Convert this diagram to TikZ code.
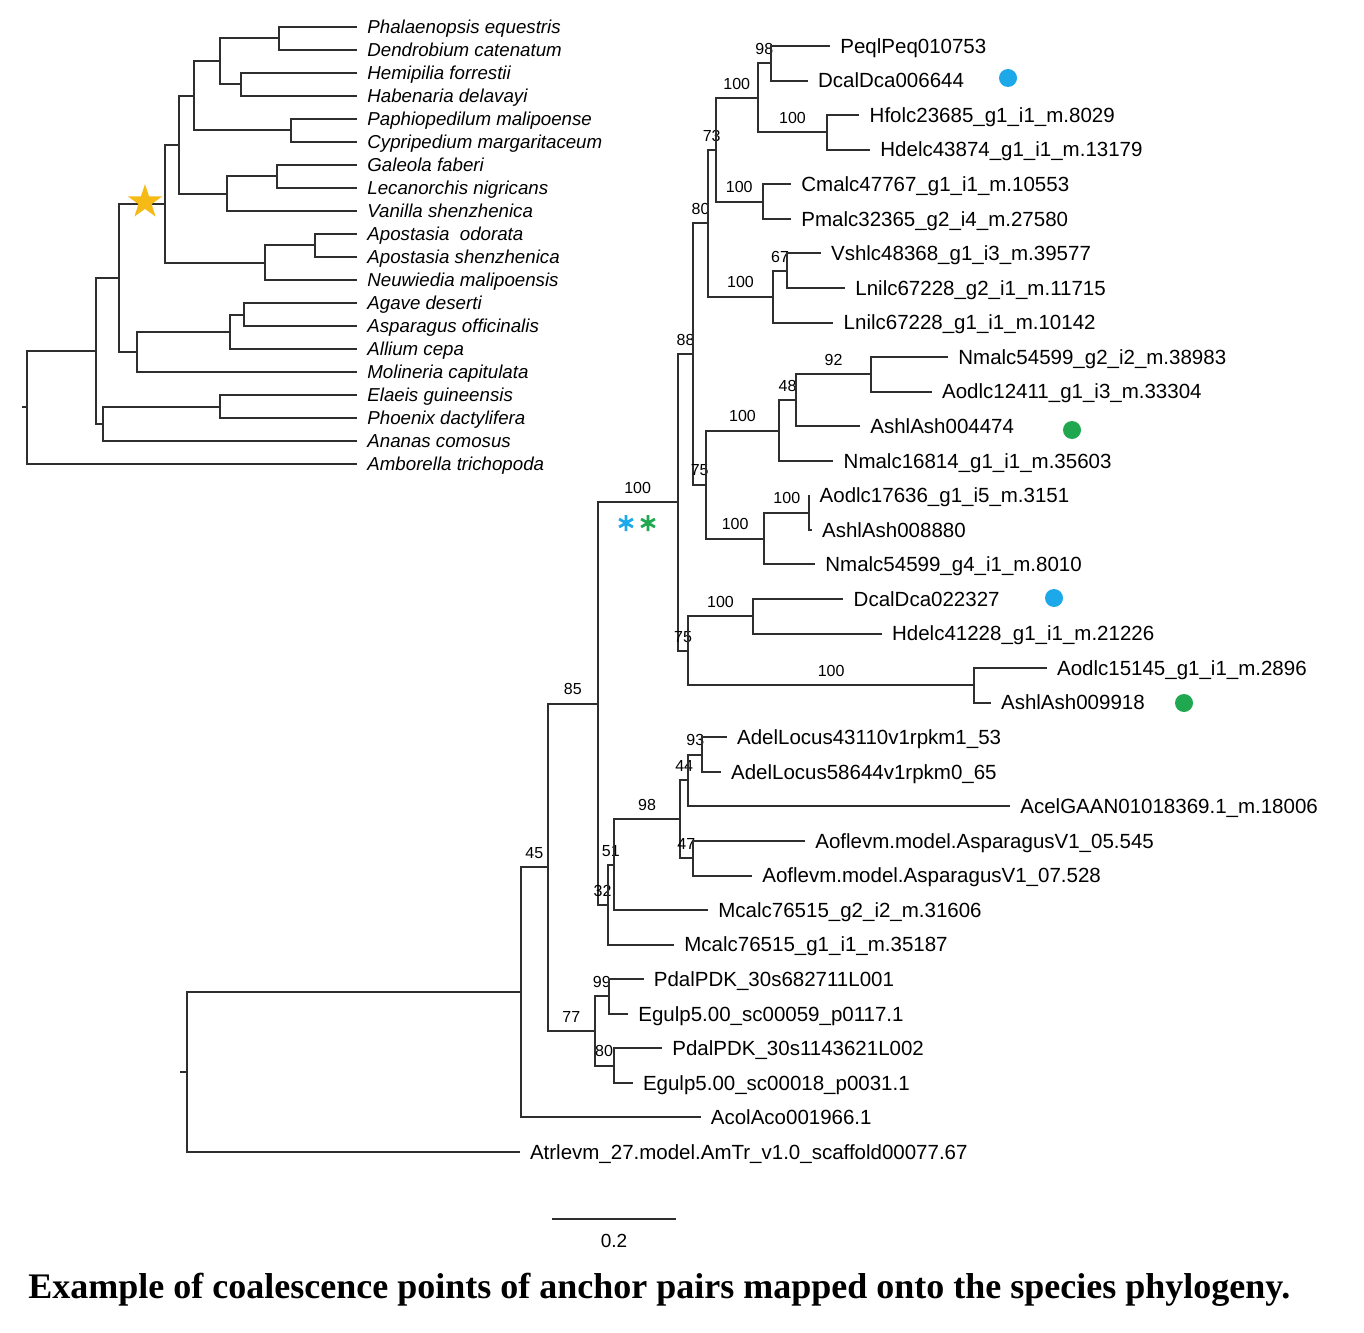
\documentclass[tikz,border=0pt]{standalone}
\usepackage{fontspec}
\setmainfont{Liberation Serif}
\setsansfont{Liberation Sans}
\usepackage{xcolor}
\usetikzlibrary{positioning,shapes.geometric}
\definecolor{branch}{HTML}{2E2E2E}
\definecolor{hitblue}{HTML}{1DA8EA}
\definecolor{hitgreen}{HTML}{1FA84F}
\definecolor{wgdgold}{HTML}{F6BA16}
\tikzset{
  br/.style   ={draw=branch, line width=1pt},
  tip/.style  ={br, shorten >=5pt},
  sp/.style   ={anchor=west, font=\sffamily\itshape\fontsize{9.35}{11}\selectfont,
                inner sep=0pt, text height=6.7pt, text depth=0pt},
  gene/.style ={anchor=west, font=\sffamily\fontsize{10.25}{12}\selectfont,
                inner sep=0pt, text height=7.3pt, text depth=0pt},
  bs/.style   ={font=\sffamily\fontsize{8}{9}\selectfont, inner sep=0pt, above=3.75pt},
  hit/.style  ={circle, inner sep=0pt, minimum size=9pt},
  ast/.style  ={line width=1.4pt},
  scl/.style  ={font=\sffamily\fontsize{9.5}{11}\selectfont, inner sep=0pt},
  ttl/.style  ={font=\rmfamily\bfseries\fontsize{18}{22}\selectfont, inner sep=0pt},
}

\begin{document}
\begin{tikzpicture}[x=0.5pt,y=-0.5pt]
  \useasboundingbox (0,0) rectangle (1364,1332);

  % ---- species tree
  \coordinate (sRoot) at (27,407.4);
  \coordinate (sMon)  at (96,350.8);
  \coordinate (sCore) at (118.6,277.84);
  \coordinate (sOrch) at (164.8,203.81);
  \coordinate (sEpi)  at (178.7,144.875);
  \coordinate (sUpp)  at (193.7,96);
  \coordinate (sOrc1) at (220,61.5);
  \coordinate (sPhD)  at (279.4,38.5);
  \coordinate (sHab)  at (241,84.5);
  \coordinate (sCyp)  at (290.5,130.5);
  \coordinate (sVan)  at (227.3,193.75);
  \coordinate (sGal)  at (276.7,176.5);
  \coordinate (sApo)  at (264.8,262.75);
  \coordinate (sApA)  at (315,245.5);
  \coordinate (sAsp)  at (137.2,351.875);
  \coordinate (sAll)  at (230.4,331.75);
  \coordinate (sAga)  at (243.9,314.5);
  \coordinate (sAna)  at (102.8,423.75);
  \coordinate (sPalm) at (219.8,406.5);

  \node[sp] (sp1)  at (367,27)  {Phalaenopsis equestris};
  \node[sp] (sp2)  at (367,50)  {Dendrobium catenatum};
  \node[sp] (sp3)  at (367,73)  {Hemipilia forrestii};
  \node[sp] (sp4)  at (367,96)  {Habenaria delavayi};
  \node[sp] (sp5)  at (367,119) {Paphiopedilum malipoense};
  \node[sp] (sp6)  at (367,142) {Cypripedium margaritaceum};
  \node[sp] (sp7)  at (367,165) {Galeola faberi};
  \node[sp] (sp8)  at (367,188) {Lecanorchis nigricans};
  \node[sp] (sp9)  at (367,211) {Vanilla shenzhenica};
  \node[sp] (sp10) at (367,234) {Apostasia\ \ odorata};
  \node[sp] (sp11) at (367,257) {Apostasia shenzhenica};
  \node[sp] (sp12) at (367,280) {Neuwiedia malipoensis};
  \node[sp] (sp13) at (367,303) {Agave deserti};
  \node[sp] (sp14) at (367,326) {Asparagus officinalis};
  \node[sp] (sp15) at (367,349) {Allium cepa};
  \node[sp] (sp16) at (367,372) {Molineria capitulata};
  \node[sp] (sp17) at (367,395) {Elaeis guineensis};
  \node[sp] (sp18) at (367,418) {Phoenix dactylifera};
  \node[sp] (sp19) at (367,441) {Ananas comosus};
  \node[sp] (sp20) at (367,464) {Amborella trichopoda};

  \draw[br] (sRoot) -- ++(-5,0);
  \draw[br] (sRoot) |- (sMon);  \draw[tip] (sRoot) |- (sp20);
  \draw[br] (sMon) |- (sCore);  \draw[br] (sMon) |- (sAna);
  \draw[br] (sCore) |- (sOrch); \draw[br] (sCore) |- (sAsp);
  \draw[br] (sOrch) |- (sEpi);  \draw[br] (sOrch) |- (sApo);
  \draw[br] (sEpi) |- (sUpp);   \draw[br] (sEpi) |- (sVan);
  \draw[br] (sUpp) |- (sOrc1);  \draw[br] (sUpp) |- (sCyp);
  \draw[br] (sOrc1) |- (sPhD);  \draw[br] (sOrc1) |- (sHab);
  \draw[tip] (sPhD) |- (sp1);   \draw[tip] (sPhD) |- (sp2);
  \draw[tip] (sHab) |- (sp3);   \draw[tip] (sHab) |- (sp4);
  \draw[tip] (sCyp) |- (sp5);   \draw[tip] (sCyp) |- (sp6);
  \draw[br] (sVan) |- (sGal);   \draw[tip] (sVan) |- (sp9);
  \draw[tip] (sGal) |- (sp7);   \draw[tip] (sGal) |- (sp8);
  \draw[br] (sApo) |- (sApA);   \draw[tip] (sApo) |- (sp12);
  \draw[tip] (sApA) |- (sp10);  \draw[tip] (sApA) |- (sp11);
  \draw[br] (sAsp) |- (sAll);   \draw[tip] (sAsp) |- (sp16);
  \draw[br] (sAll) |- (sAga);   \draw[tip] (sAll) |- (sp15);
  \draw[tip] (sAga) |- (sp13);  \draw[tip] (sAga) |- (sp14);
  \draw[br] (sAna) |- (sPalm);  \draw[tip] (sAna) |- (sp19);
  \draw[tip] (sPalm) |- (sp17); \draw[tip] (sPalm) |- (sp18);

  \node[star, star points=5, star point ratio=2.6, fill=wgdgold, inner sep=0pt,
        minimum size=18pt] (wgd) at (145,202) {};

  % ---- gene tree
  \coordinate (gRoot) at (187,1072.2);
  \coordinate (gA)  at (520.5,992.35);
  \coordinate (gB)  at (548,867.27);
  \coordinate (gC)  at (597.5,703.5);
  \coordinate (gD)  at (594.6,1031.03);
  \coordinate (gD1) at (609,996.47);
  \coordinate (gD2) at (613.6,1065.6);
  \coordinate (gE)  at (677.7,502.33);
  \coordinate (gG)  at (607.7,904.66);
  \coordinate (gH)  at (614,864.7);
  \coordinate (gI)  at (680,819.34);
  \coordinate (gJ)  at (688.3,780.45);
  \coordinate (gL)  at (702.3,754.53);
  \coordinate (gK)  at (692.7,858.22);
  \coordinate (gM)  at (693.3,353.82);
  \coordinate (gP)  at (707.7,223.13);
  \coordinate (gR)  at (715.7,149.69);
  \coordinate (gT)  at (757.7,97.84);
  \coordinate (gV)  at (771,63.28);
  \coordinate (gW)  at (827.3,132.41);
  \coordinate (gU)  at (762.7,201.53);
  \coordinate (gS)  at (773.3,296.58);
  \coordinate (gX)  at (786.7,270.66);
  \coordinate (gQ)  at (706,484.52);
  \coordinate (gY)  at (779,430.51);
  \coordinate (gAA) at (796,400.27);
  \coordinate (gBB) at (871,374.34);
  \coordinate (gZ)  at (764.3,538.52);
  \coordinate (gCC) at (809.3,512.59);
  \coordinate (gN)  at (688.3,650.84);
  \coordinate (gN1) at (752.7,616.28);
  \coordinate (gN2) at (974,685.41);

  \node[gene] (g1)  at (840,46)       {PeqlPeq010753};
  \node[gene] (g2)  at (817.7,80.56)  {DcalDca006644};
  \node[gene] (g3)  at (869.3,115.13) {Hfolc23685\_g1\_i1\_m.8029};
  \node[gene] (g4)  at (880,149.69)   {Hdelc43874\_g1\_i1\_m.13179};
  \node[gene] (g5)  at (801,184.25)   {Cmalc47767\_g1\_i1\_m.10553};
  \node[gene] (g6)  at (801,218.81)   {Pmalc32365\_g2\_i4\_m.27580};
  \node[gene] (g7)  at (830.7,253.38) {Vshlc48368\_g1\_i3\_m.39577};
  \node[gene] (g8)  at (855,287.94)   {Lnilc67228\_g2\_i1\_m.11715};
  \node[gene] (g9)  at (843.3,322.5)  {Lnilc67228\_g1\_i1\_m.10142};
  \node[gene] (g10) at (958,357.06)   {Nmalc54599\_g2\_i2\_m.38983};
  \node[gene] (g11) at (941.7,391.63) {Aodlc12411\_g1\_i3\_m.33304};
  \node[gene] (g12) at (870,426.19)   {AshlAsh004474};
  \node[gene] (g13) at (843.3,460.75) {Nmalc16814\_g1\_i1\_m.35603};
  \node[gene] (g14) at (819.3,495.31) {Aodlc17636\_g1\_i5\_m.3151};
  \node[gene] (g15) at (821.7,529.88) {AshlAsh008880};
  \node[gene] (g16) at (825,564.44)   {Nmalc54599\_g4\_i1\_m.8010};
  \node[gene] (g17) at (853.3,599)    {DcalDca022327};
  \node[gene] (g18) at (891.7,633.56) {Hdelc41228\_g1\_i1\_m.21226};
  \node[gene] (g19) at (1056.7,668.13) {Aodlc15145\_g1\_i1\_m.2896};
  \node[gene] (g20) at (1000.7,702.69) {AshlAsh009918};
  \node[gene] (g21) at (736.7,737.25) {AdelLocus43110v1rpkm1\_53};
  \node[gene] (g22) at (730.7,771.81) {AdelLocus58644v1rpkm0\_65};
  \node[gene] (g23) at (1020,806.38)  {AcelGAAN01018369.1\_m.18006};
  \node[gene] (g24) at (815,840.94)   {Aoflevm.model.AsparagusV1\_05.545};
  \node[gene] (g25) at (762,875.5)    {Aoflevm.model.AsparagusV1\_07.528};
  \node[gene] (g26) at (718,910.06)   {Mcalc76515\_g2\_i2\_m.31606};
  \node[gene] (g27) at (684,944.63)   {Mcalc76515\_g1\_i1\_m.35187};
  \node[gene] (g28) at (653.5,979.19) {PdalPDK\_30s682711L001};
  \node[gene] (g29) at (638,1013.75)  {Egulp5.00\_sc00059\_p0117.1};
  \node[gene] (g30) at (672,1048.31)  {PdalPDK\_30s1143621L002};
  \node[gene] (g31) at (642.6,1082.88) {Egulp5.00\_sc00018\_p0031.1};
  \node[gene] (g32) at (710.5,1117.44) {AcolAco001966.1};
  \node[gene] (g33) at (529.6,1152)   {Atrlevm\_27.model.AmTr\_v1.0\_scaffold00077.67};

  \draw[br] (gRoot) -- ++(-7,0);
  \draw[br] (gRoot) |- (gA);   \draw[tip] (gRoot) |- (g33);
  \draw[br] (gA) |- (gB) node[bs,pos=.75] {45};
  \draw[tip] (gA) |- (g32);
  \draw[br] (gB) |- (gC) node[bs,pos=.75] {85};
  \draw[br] (gB) |- (gD) node[bs,pos=.75] {77};
  \draw[br] (gD) |- (gD1) node[bs,pos=.75] {99};
  \draw[br] (gD) |- (gD2) node[bs,pos=.75] {80};
  \draw[tip] (gD1) |- (g28);  \draw[tip] (gD1) |- (g29);
  \draw[tip] (gD2) |- (g30);  \draw[tip] (gD2) |- (g31);
  \draw[br] (gC) |- (gE) node[bs,pos=.75] {100};
  \draw[br] (gC) |- (gG) node[bs,pos=.75] {32};
  \draw[br] (gG) |- (gH) node[bs,pos=.75] {51};
  \draw[tip] (gG) |- (g27);
  \draw[br] (gH) |- (gI) node[bs,pos=.75] {98};
  \draw[tip] (gH) |- (g26);
  \draw[br] (gI) |- (gJ) node[bs,pos=.75] {44};
  \draw[br] (gI) |- (gK) node[bs,pos=.75] {47};
  \draw[br] (gJ) |- (gL) node[bs,pos=.75] {93};
  \draw[tip] (gJ) |- (g23);
  \draw[tip] (gL) |- (g21);   \draw[tip] (gL) |- (g22);
  \draw[tip] (gK) |- (g24);   \draw[tip] (gK) |- (g25);
  \draw[br] (gE) |- (gM) node[bs,pos=.75] {88};
  \draw[br] (gE) |- (gN) node[bs,pos=.75] {75};
  \draw[br] (gM) |- (gP) node[bs,pos=.75] {80};
  \draw[br] (gM) |- (gQ) node[bs,pos=.75] {75};
  \draw[br] (gP) |- (gR) node[bs,pos=.75] {73};
  \draw[br] (gP) |- (gS) node[bs,pos=.75] {100};
  \draw[br] (gR) |- (gT) node[bs,pos=.75] {100};
  \draw[br] (gR) |- (gU) node[bs,pos=.75] {100};
  \draw[br] (gT) |- (gV) node[bs,pos=.75] {98};
  \draw[br] (gT) |- (gW) node[bs,pos=.75] {100};
  \draw[tip] (gV) |- (g1);    \draw[tip] (gV) |- (g2);
  \draw[tip] (gW) |- (g3);    \draw[tip] (gW) |- (g4);
  \draw[tip] (gU) |- (g5);    \draw[tip] (gU) |- (g6);
  \draw[br] (gS) |- (gX) node[bs,pos=.75] {67};
  \draw[tip] (gS) |- (g9);
  \draw[tip] (gX) |- (g7);    \draw[tip] (gX) |- (g8);
  \draw[br] (gQ) |- (gY) node[bs,pos=.75] {100};
  \draw[br] (gQ) |- (gZ) node[bs,pos=.75] {100};
  \draw[br] (gY) |- (gAA) node[bs,pos=.75] {48};
  \draw[tip] (gY) |- (g13);
  \draw[br] (gAA) |- (gBB) node[bs,pos=.75] {92};
  \draw[tip] (gAA) |- (g12);
  \draw[tip] (gBB) |- (g10);  \draw[tip] (gBB) |- (g11);
  \draw[br] (gZ) |- (gCC) node[bs,pos=.75] {100};
  \draw[tip] (gZ) |- (g16);
  \draw[tip] (gCC) |- (g14);  \draw[tip] (gCC) |- (g15);
  \draw[br] (gN) |- (gN1) node[bs,pos=.75] {100};
  \draw[br] (gN) |- (gN2) node[bs,pos=.75] {100};
  \draw[tip] (gN1) |- (g17);  \draw[tip] (gN1) |- (g18);
  \draw[tip] (gN2) |- (g19);  \draw[tip] (gN2) |- (g20);

  % anchor pairs
  \node[hit,fill=hitblue]  (hit1) at (1008,78)  {};
  \node[hit,fill=hitgreen] (hit2) at (1072,430) {};
  \node[hit,fill=hitblue]  (hit3) at (1054,598) {};
  \node[hit,fill=hitgreen] (hit4) at (1184,703) {};

  \coordinate (astB) at (626,523);
  \coordinate (astG) at (648,523);
  \draw[ast,hitblue]  (astB) ++(90:8) -- ++(270:16) (astB) ++(30:8) -- ++(210:16) (astB) ++(150:8) -- ++(330:16);
  \draw[ast,hitgreen] (astG) ++(90:8) -- ++(270:16) (astG) ++(30:8) -- ++(210:16) (astG) ++(150:8) -- ++(330:16);

  % scale bar
  \coordinate (sbL) at (552,1219);
  \coordinate (sbR) at (676,1219);
  \draw[br] (sbL) -- (sbR) node[scl,midway,below=7pt] (sbT) {0.2};

  \node[ttl,anchor=base west] (caption) at (28,1298)
    {Example of coalescence points of anchor pairs mapped onto the species phylogeny.};
\end{tikzpicture}
\end{document}
